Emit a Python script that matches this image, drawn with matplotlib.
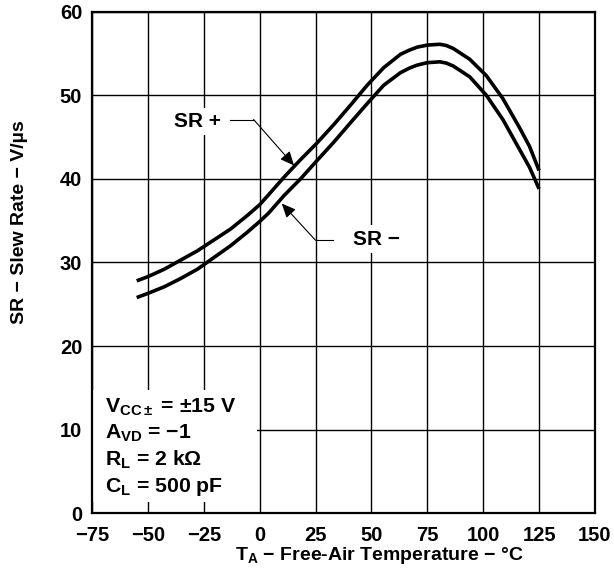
import numpy as np
import matplotlib
matplotlib.use("Agg")
import matplotlib.pyplot as plt
from matplotlib.patches import Rectangle

plt.rcParams['font.family'] = ['Liberation Sans', 'DejaVu Sans']
plt.rcParams['font.weight'] = 'bold'
plt.rcParams['mathtext.fontset'] = 'custom'
plt.rcParams['mathtext.rm'] = 'Liberation Sans:bold'
plt.rcParams['mathtext.bf'] = 'Liberation Sans:bold'
plt.rcParams['mathtext.it'] = 'Liberation Sans:bold'

# values
temp = [-55, -50, -42.6, -35.2, -27.8, -20.4, -13, -5.6, 0, 4, 10.9, 18.3, 25.7,
        33.2, 40.6, 48.1, 55.5, 63, 67, 70.4, 75, 80.6, 83.5, 86.6, 94, 101.4, 108.8,
        116.3, 120.7, 125]
sr_plus = [27.8, 28.3, 29.2, 30.3, 31.4, 32.7, 34.0, 35.6, 36.9, 38.1, 40.2, 42.3,
           44.3, 46.5, 48.8, 51.2, 53.3, 54.9, 55.4, 55.75, 56.0, 56.1, 55.95, 55.6, 54.3,
           52.35, 49.6, 46.1, 43.9, 41.0]
sr_minus = [25.8, 26.3, 27.1, 28.1, 29.2, 30.6, 32.0, 33.6, 34.9, 35.9, 38.0, 40.0,
            42.2, 44.4, 46.7, 49.0, 51.2, 52.7, 53.25, 53.6, 53.9, 54.0, 53.85, 53.5, 52.2,
            50.0, 47.1, 43.5, 41.4, 38.8]

xticks = [-75, -50, -25, 0, 25, 50, 75, 100, 125, 150]
yticks = [0, 10, 20, 30, 40, 50, 60]

conditions = [r'$\mathbf{V_{CC\pm}}$ = ±15 V', r'$\mathbf{A_{VD}}$ = −1',
              r'$\mathbf{R_L}$ = 2 kΩ', r'$\mathbf{C_L}$ = 500 pF']
cond_y = [12.7, 9.6, 6.4, 3.1]

fs = 14.5

fig = plt.figure(figsize=(6.14, 5.83), dpi=100)
ax = fig.add_axes([0.1498, 0.1196, 0.8192, 0.8604])

ax.set_xlim(-75, 150)
ax.set_ylim(0, 60)
ax.set_xticks(xticks)
ax.set_yticks(yticks)
ax.tick_params(length=0, labelsize=fs)
ax.tick_params(axis='x', pad=9)
ax.tick_params(axis='y', pad=7)
for lab in ax.get_xticklabels() + ax.get_yticklabels():
    lab.set_fontweight('bold')
ax.grid(True, color='black', lw=1.0, zorder=1)
ax.set_axisbelow(True)
for s in ax.spines.values():
    s.set_linewidth(1.6)
    s.set_zorder(5)

ax.plot(temp, sr_plus, color='black', lw=2.6, zorder=3, solid_capstyle='butt', solid_joinstyle='round')
ax.plot(temp, sr_minus, color='black', lw=2.6, zorder=3, solid_capstyle='butt', solid_joinstyle='round')

# white box behind the test conditions
ax.add_patch(Rectangle((-75, 1.3), 74, 13.4, facecolor='white', edgecolor='none', zorder=2))
for t, y in zip(conditions, cond_y):
    ax.text(-69.2, y, t, fontsize=15.3, fontweight='bold', va='center', ha='left', zorder=4)

# curve labels with leader arrows
bb = dict(facecolor='white', edgecolor='none', pad=3)
aprops = dict(arrowstyle='-|>,head_length=0.85,head_width=0.38', color='black',
              lw=0.8, shrinkA=0, shrinkB=0)
ax.text(-38.3, 46.9, 'SR +', fontsize=15, fontweight='bold', va='center', ha='left', bbox=bb, zorder=4)
ax.plot([-13.1, -2.7], [47.1, 47.1], color='black', lw=0.8, zorder=4)
ax.annotate('', xy=(15.4, 41.6), xytext=(-2.7, 47.1), arrowprops=aprops, zorder=4)
ax.text(41.8, 32.8, 'SR −', fontsize=15, fontweight='bold', va='center', ha='left', bbox=bb, zorder=4)
ax.plot([32.6, 25.0], [32.65, 32.65], color='black', lw=0.8, zorder=4)
ax.annotate('', xy=(9.9, 37.05), xytext=(25.0, 32.65), arrowprops=aprops, zorder=4)

ax.set_xlabel(r'$\mathbf{T_A}$ − Free-Air Temperature − °C', fontsize=14, fontweight='bold')
ax.xaxis.set_label_coords(0.571, -0.063)
ax.set_ylabel('SR − Slew Rate − V/µs', fontsize=14, fontweight='bold')
ax.yaxis.set_label_coords(-0.127, 0.581)

fig.savefig('out.png', dpi=100)
